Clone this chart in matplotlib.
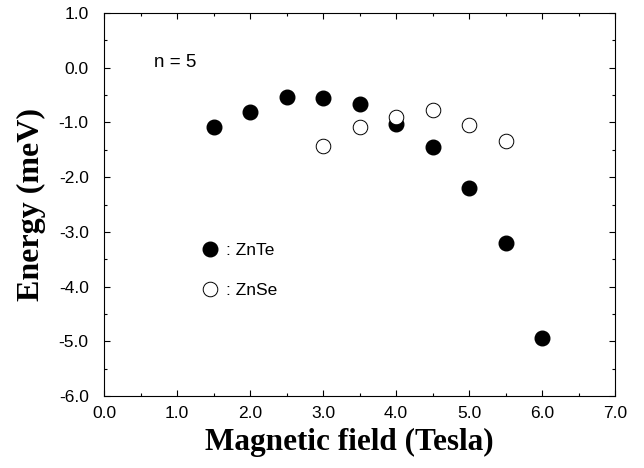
import matplotlib
matplotlib.use("Agg")
import matplotlib.pyplot as plt
from matplotlib.ticker import MultipleLocator, FormatStrFormatter

# donnees
champ_znte = [1.5, 2.0, 2.5, 3.0, 3.5, 4.0, 4.5, 5.0, 5.5, 6.0]
energie_znte = [-1.08, -0.80, -0.54, -0.55, -0.66, -1.03, -1.44, -2.20, -3.21, -4.94]
champ_znse = [3.0, 3.5, 4.0, 4.5, 5.0, 5.5]
energie_znse = [-1.43, -1.09, -0.90, -0.77, -1.05, -1.33]

fig = plt.figure(figsize=(6.44, 4.68), dpi=100)
ax = fig.add_axes([0.1615, 0.154, 0.7935, 0.818])

ax.plot(champ_znte, energie_znte, 'o', color='black', markersize=10.5, linestyle='none', label=': ZnTe')
ax.plot(champ_znse, energie_znse, 'o', markerfacecolor='white', markeredgecolor='black',
        markeredgewidth=0.7, markersize=10.5, linestyle='none', label=': ZnSe')

ax.set_xlim(0, 7)
ax.set_ylim(-6, 1)
ax.xaxis.set_major_locator(MultipleLocator(1))
ax.xaxis.set_minor_locator(MultipleLocator(0.5))
ax.yaxis.set_major_locator(MultipleLocator(1))
ax.yaxis.set_minor_locator(MultipleLocator(0.5))
ax.xaxis.set_major_formatter(FormatStrFormatter('%.1f'))
ax.yaxis.set_major_formatter(FormatStrFormatter('%.1f'))
ax.tick_params(which='both', direction='in', top=True, right=True, width=0.8)
ax.tick_params(which='major', length=4, labelsize=12.5)
ax.tick_params(axis='x', which='major', pad=7)
ax.tick_params(axis='y', which='major', pad=11)
ax.tick_params(which='minor', length=2.5)
for lab in ax.get_xticklabels() + ax.get_yticklabels():
    lab.set_family('Liberation Sans')
for s in ax.spines.values():
    s.set_linewidth(0.8)

ax.set_xlabel('Magnetic field (Tesla)', family='Liberation Serif', fontweight='bold', fontsize=22.5, labelpad=5)
ax.set_ylabel('Energy (meV)', family='Liberation Serif', fontweight='bold', fontsize=23, labelpad=9)
ax.xaxis.label.set_x(0.48)

ax.text(0.68, 0.1, 'n = 5', family='Liberation Sans', fontsize=13.5, va='center')

ax.legend(loc='center left', bbox_to_anchor=(0.16, 0.328), frameon=False, numpoints=1,
          handlelength=1.0, handletextpad=0.4, labelspacing=1.4,
          prop={'family': 'Liberation Sans', 'size': 12.5})

fig.savefig('out.png', dpi=100)
